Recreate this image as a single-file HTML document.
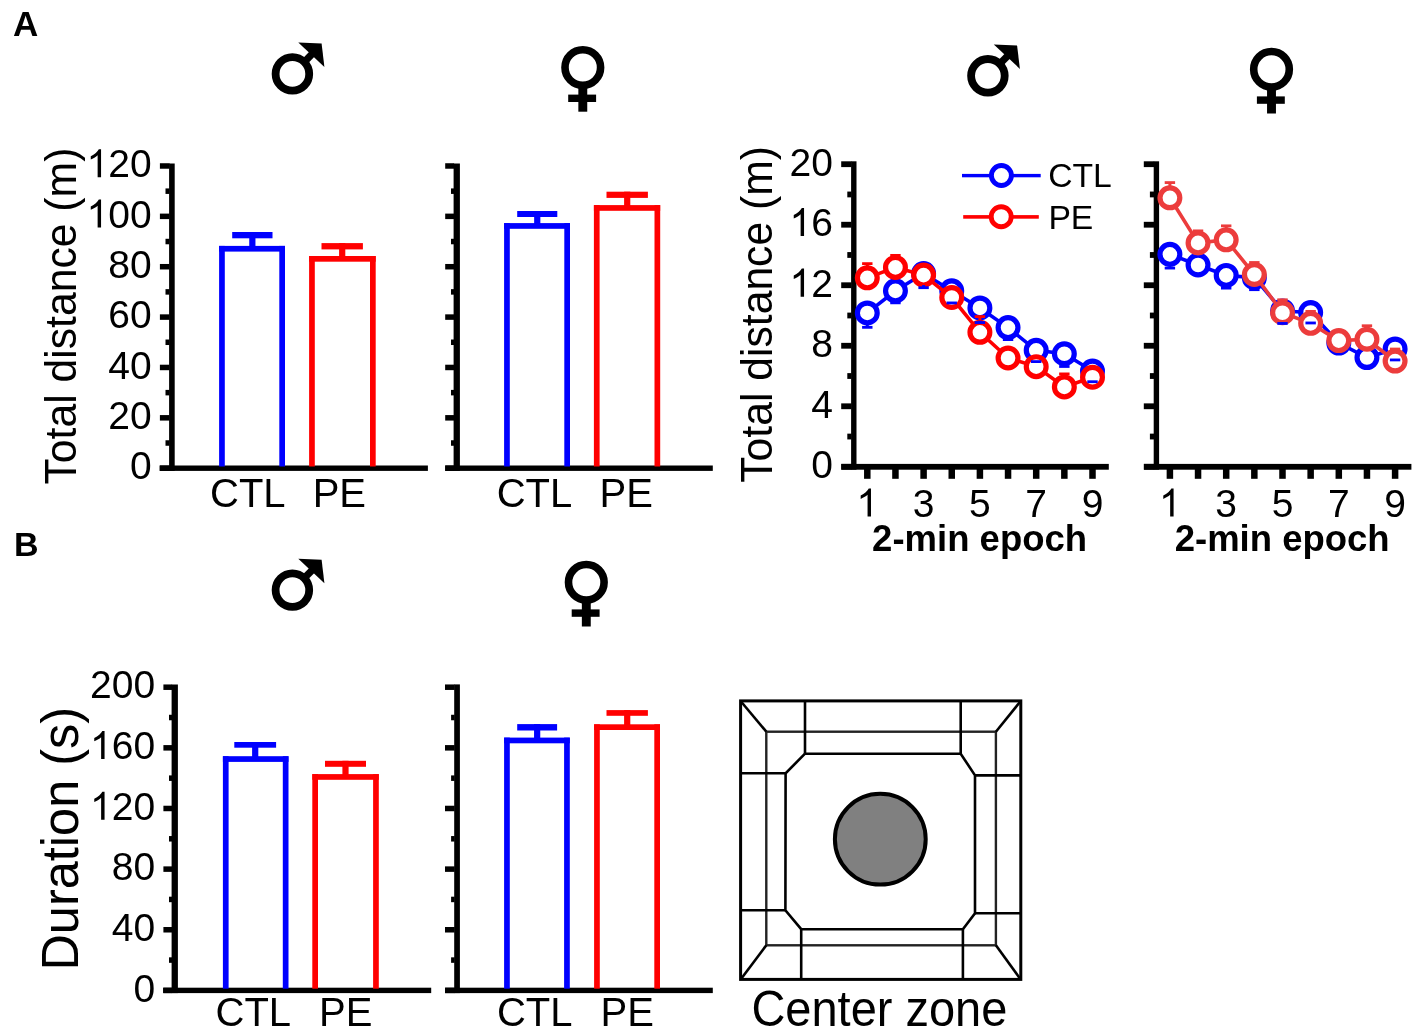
<!DOCTYPE html>
<html><head><meta charset="utf-8"><style>
html,body{margin:0;padding:0;background:#fff;overflow:hidden;}
svg{display:block;will-change:transform;}
text{font-family:"Liberation Sans", sans-serif;fill:#000;}
</style></head><body>
<svg width="1421" height="1033" viewBox="0 0 1421 1033">
<text x="12.95" y="35.80" font-size="35" text-anchor="start" font-weight="bold">A</text>
<text x="14.00" y="555.80" font-size="34" text-anchor="start" font-weight="bold">B</text>
<circle cx="292.40" cy="73.90" r="16.8" fill="none" stroke="#000" stroke-width="7.8"/>
<line x1="302.40" y1="63.90" x2="314.00" y2="52.00" stroke="#000" stroke-width="7.2"/>
<polygon points="298.30,42.50 321.60,43.60 324.40,67.00" fill="#000"/>
<circle cx="582.80" cy="67.50" r="17.8" fill="none" stroke="#000" stroke-width="7.6"/>
<rect x="578.35" y="87.50" width="8.90" height="24.20" fill="#000"/>
<rect x="568.20" y="94.60" width="27.90" height="7.40" fill="#000"/>
<circle cx="292.40" cy="590.10" r="16.8" fill="none" stroke="#000" stroke-width="7.8"/>
<line x1="302.40" y1="580.10" x2="314.00" y2="568.20" stroke="#000" stroke-width="7.2"/>
<polygon points="298.30,558.70 321.60,559.80 324.40,583.20" fill="#000"/>
<circle cx="586.30" cy="582.30" r="17.8" fill="none" stroke="#000" stroke-width="7.6"/>
<rect x="581.85" y="602.30" width="8.90" height="24.20" fill="#000"/>
<rect x="571.70" y="609.40" width="27.90" height="7.40" fill="#000"/>
<circle cx="987.90" cy="75.80" r="16.8" fill="none" stroke="#000" stroke-width="7.8"/>
<line x1="997.90" y1="65.80" x2="1009.50" y2="53.90" stroke="#000" stroke-width="7.2"/>
<polygon points="993.80,44.40 1017.10,45.50 1019.90,68.90" fill="#000"/>
<circle cx="1271.50" cy="69.30" r="17.8" fill="none" stroke="#000" stroke-width="7.6"/>
<rect x="1267.05" y="89.30" width="8.90" height="24.20" fill="#000"/>
<rect x="1256.90" y="96.40" width="27.90" height="7.40" fill="#000"/>
<rect x="169.10" y="163.50" width="5.60" height="307.40" fill="#000"/>
<rect x="159.60" y="465.50" width="268.30" height="5.40" fill="#000"/>
<rect x="159.90" y="465.45" width="9.70" height="5.50" fill="#000"/>
<rect x="165.50" y="440.26" width="4.10" height="5.50" fill="#000"/>
<rect x="159.90" y="415.08" width="9.70" height="5.50" fill="#000"/>
<rect x="165.50" y="389.89" width="4.10" height="5.50" fill="#000"/>
<rect x="159.90" y="364.71" width="9.70" height="5.50" fill="#000"/>
<rect x="165.50" y="339.52" width="4.10" height="5.50" fill="#000"/>
<rect x="159.90" y="314.34" width="9.70" height="5.50" fill="#000"/>
<rect x="165.50" y="289.15" width="4.10" height="5.50" fill="#000"/>
<rect x="159.90" y="263.97" width="9.70" height="5.50" fill="#000"/>
<rect x="165.50" y="238.78" width="4.10" height="5.50" fill="#000"/>
<rect x="159.90" y="213.60" width="9.70" height="5.50" fill="#000"/>
<rect x="165.50" y="188.42" width="4.10" height="5.50" fill="#000"/>
<rect x="159.90" y="163.23" width="9.70" height="5.50" fill="#000"/>
<text x="129.91" y="479.40" font-size="39">0</text>
<text x="108.22" y="429.03" font-size="39">2</text>
<text x="129.91" y="429.03" font-size="39">0</text>
<text x="108.22" y="378.66" font-size="39">4</text>
<text x="129.91" y="378.66" font-size="39">0</text>
<text x="108.22" y="328.29" font-size="39">6</text>
<text x="129.91" y="328.29" font-size="39">0</text>
<text x="108.22" y="277.92" font-size="39">8</text>
<text x="129.91" y="277.92" font-size="39">0</text>
<path d="M763 0H583V1147Q518 1085 412 1023Q306 961 222 930V1104Q373 1175 486 1276Q599 1377 646 1472H763Z" transform="translate(86.53,227.55) scale(0.01904,-0.01904)"/>
<text x="108.22" y="227.55" font-size="39">0</text>
<text x="129.91" y="227.55" font-size="39">0</text>
<path d="M763 0H583V1147Q518 1085 412 1023Q306 961 222 930V1104Q373 1175 486 1276Q599 1377 646 1472H763Z" transform="translate(86.53,177.18) scale(0.01904,-0.01904)"/>
<text x="108.22" y="177.18" font-size="39">2</text>
<text x="129.91" y="177.18" font-size="39">0</text>
<rect x="219.10" y="245.90" width="5.70" height="220.60" fill="#0000ff"/>
<rect x="279.30" y="245.90" width="5.70" height="220.60" fill="#0000ff"/>
<rect x="219.10" y="245.90" width="65.90" height="5.70" fill="#0000ff"/>
<rect x="249.25" y="232.00" width="6.20" height="14.90" fill="#0000ff"/>
<rect x="232.20" y="232.00" width="40.30" height="6.30" fill="#0000ff"/>
<rect x="309.10" y="256.00" width="5.70" height="210.50" fill="#ff0000"/>
<rect x="370.00" y="256.00" width="5.70" height="210.50" fill="#ff0000"/>
<rect x="309.10" y="256.00" width="66.60" height="5.70" fill="#ff0000"/>
<rect x="339.10" y="243.10" width="6.20" height="13.90" fill="#ff0000"/>
<rect x="321.50" y="243.10" width="41.40" height="6.30" fill="#ff0000"/>
<text x="210.00" y="506.80" font-size="40" text-anchor="start">CTL</text>
<text x="312.70" y="506.80" font-size="40" text-anchor="start">PE</text>
<rect x="453.60" y="163.50" width="6.30" height="307.40" fill="#000"/>
<rect x="445.20" y="465.50" width="267.60" height="5.40" fill="#000"/>
<rect x="445.20" y="465.45" width="8.90" height="5.50" fill="#000"/>
<rect x="451.00" y="440.26" width="3.10" height="5.50" fill="#000"/>
<rect x="445.20" y="415.08" width="8.90" height="5.50" fill="#000"/>
<rect x="451.00" y="389.89" width="3.10" height="5.50" fill="#000"/>
<rect x="445.20" y="364.71" width="8.90" height="5.50" fill="#000"/>
<rect x="451.00" y="339.52" width="3.10" height="5.50" fill="#000"/>
<rect x="445.20" y="314.34" width="8.90" height="5.50" fill="#000"/>
<rect x="451.00" y="289.15" width="3.10" height="5.50" fill="#000"/>
<rect x="445.20" y="263.97" width="8.90" height="5.50" fill="#000"/>
<rect x="451.00" y="238.78" width="3.10" height="5.50" fill="#000"/>
<rect x="445.20" y="213.60" width="8.90" height="5.50" fill="#000"/>
<rect x="451.00" y="188.42" width="3.10" height="5.50" fill="#000"/>
<rect x="445.20" y="163.23" width="8.90" height="5.50" fill="#000"/>
<rect x="504.10" y="223.10" width="5.70" height="243.40" fill="#0000ff"/>
<rect x="564.30" y="223.10" width="5.70" height="243.40" fill="#0000ff"/>
<rect x="504.10" y="223.10" width="65.90" height="5.70" fill="#0000ff"/>
<rect x="534.15" y="211.00" width="6.20" height="13.10" fill="#0000ff"/>
<rect x="517.20" y="211.00" width="40.10" height="6.00" fill="#0000ff"/>
<rect x="593.90" y="205.10" width="5.70" height="261.40" fill="#ff0000"/>
<rect x="654.50" y="205.10" width="5.70" height="261.40" fill="#ff0000"/>
<rect x="593.90" y="205.10" width="66.30" height="5.70" fill="#ff0000"/>
<rect x="624.10" y="191.70" width="6.20" height="14.40" fill="#ff0000"/>
<rect x="606.50" y="191.70" width="41.40" height="6.20" fill="#ff0000"/>
<text x="496.70" y="506.80" font-size="40" text-anchor="start">CTL</text>
<text x="599.60" y="506.80" font-size="40" text-anchor="start">PE</text>
<rect x="171.60" y="684.50" width="6.30" height="308.60" fill="#000"/>
<rect x="163.10" y="987.70" width="268.10" height="5.40" fill="#000"/>
<rect x="163.40" y="987.65" width="8.70" height="5.50" fill="#000"/>
<rect x="169.00" y="957.33" width="3.10" height="5.50" fill="#000"/>
<rect x="163.40" y="927.01" width="8.70" height="5.50" fill="#000"/>
<rect x="169.00" y="896.69" width="3.10" height="5.50" fill="#000"/>
<rect x="163.40" y="866.37" width="8.70" height="5.50" fill="#000"/>
<rect x="169.00" y="836.05" width="3.10" height="5.50" fill="#000"/>
<rect x="163.40" y="805.73" width="8.70" height="5.50" fill="#000"/>
<rect x="169.00" y="775.41" width="3.10" height="5.50" fill="#000"/>
<rect x="163.40" y="745.09" width="8.70" height="5.50" fill="#000"/>
<rect x="169.00" y="714.77" width="3.10" height="5.50" fill="#000"/>
<rect x="163.40" y="684.45" width="8.70" height="5.50" fill="#000"/>
<text x="133.41" y="1001.60" font-size="39">0</text>
<text x="111.72" y="940.96" font-size="39">4</text>
<text x="133.41" y="940.96" font-size="39">0</text>
<text x="111.72" y="880.32" font-size="39">8</text>
<text x="133.41" y="880.32" font-size="39">0</text>
<path d="M763 0H583V1147Q518 1085 412 1023Q306 961 222 930V1104Q373 1175 486 1276Q599 1377 646 1472H763Z" transform="translate(90.03,819.68) scale(0.01904,-0.01904)"/>
<text x="111.72" y="819.68" font-size="39">2</text>
<text x="133.41" y="819.68" font-size="39">0</text>
<path d="M763 0H583V1147Q518 1085 412 1023Q306 961 222 930V1104Q373 1175 486 1276Q599 1377 646 1472H763Z" transform="translate(90.03,759.04) scale(0.01904,-0.01904)"/>
<text x="111.72" y="759.04" font-size="39">6</text>
<text x="133.41" y="759.04" font-size="39">0</text>
<text x="90.03" y="698.40" font-size="39">2</text>
<text x="111.72" y="698.40" font-size="39">0</text>
<text x="133.41" y="698.40" font-size="39">0</text>
<rect x="222.90" y="756.20" width="5.70" height="232.50" fill="#0000ff"/>
<rect x="282.80" y="756.20" width="5.70" height="232.50" fill="#0000ff"/>
<rect x="222.90" y="756.20" width="65.60" height="5.70" fill="#0000ff"/>
<rect x="252.10" y="742.00" width="6.20" height="15.20" fill="#0000ff"/>
<rect x="234.30" y="742.00" width="41.80" height="5.70" fill="#0000ff"/>
<rect x="312.30" y="774.10" width="5.70" height="214.60" fill="#ff0000"/>
<rect x="373.10" y="774.10" width="5.70" height="214.60" fill="#ff0000"/>
<rect x="312.30" y="774.10" width="66.50" height="5.70" fill="#ff0000"/>
<rect x="342.40" y="760.80" width="6.20" height="14.30" fill="#ff0000"/>
<rect x="325.00" y="760.80" width="41.00" height="6.00" fill="#ff0000"/>
<text x="215.50" y="1026.00" font-size="40" text-anchor="start">CTL</text>
<text x="319.00" y="1026.00" font-size="40" text-anchor="start">PE</text>
<rect x="454.20" y="684.40" width="5.70" height="308.70" fill="#000"/>
<rect x="445.20" y="987.70" width="267.60" height="5.40" fill="#000"/>
<rect x="445.00" y="987.65" width="9.70" height="5.50" fill="#000"/>
<rect x="451.10" y="957.33" width="3.60" height="5.50" fill="#000"/>
<rect x="445.00" y="927.01" width="9.70" height="5.50" fill="#000"/>
<rect x="451.10" y="896.69" width="3.60" height="5.50" fill="#000"/>
<rect x="445.00" y="866.37" width="9.70" height="5.50" fill="#000"/>
<rect x="451.10" y="836.05" width="3.60" height="5.50" fill="#000"/>
<rect x="445.00" y="805.73" width="9.70" height="5.50" fill="#000"/>
<rect x="451.10" y="775.41" width="3.60" height="5.50" fill="#000"/>
<rect x="445.00" y="745.09" width="9.70" height="5.50" fill="#000"/>
<rect x="451.10" y="714.77" width="3.60" height="5.50" fill="#000"/>
<rect x="445.00" y="684.45" width="9.70" height="5.50" fill="#000"/>
<rect x="504.10" y="737.60" width="5.70" height="251.10" fill="#0000ff"/>
<rect x="564.10" y="737.60" width="5.70" height="251.10" fill="#0000ff"/>
<rect x="504.10" y="737.60" width="65.70" height="5.70" fill="#0000ff"/>
<rect x="534.05" y="724.10" width="6.20" height="14.50" fill="#0000ff"/>
<rect x="517.20" y="724.10" width="39.90" height="6.40" fill="#0000ff"/>
<rect x="594.10" y="724.30" width="5.70" height="264.40" fill="#ff0000"/>
<rect x="654.30" y="724.30" width="5.70" height="264.40" fill="#ff0000"/>
<rect x="594.10" y="724.30" width="65.90" height="5.70" fill="#ff0000"/>
<rect x="624.10" y="710.10" width="6.20" height="15.20" fill="#ff0000"/>
<rect x="606.50" y="710.10" width="41.40" height="5.70" fill="#ff0000"/>
<text x="496.90" y="1026.00" font-size="40" text-anchor="start">CTL</text>
<text x="600.60" y="1026.00" font-size="40" text-anchor="start">PE</text>
<text x="0" y="0" font-size="42.7" transform="translate(75.90,484.50) rotate(-90) scale(1,1.035)">Total distance (m)</text>
<text x="0" y="0" font-size="42.7" transform="translate(772.00,482.80) rotate(-90) scale(1,1.035)">Total distance (m)</text>
<text x="0" y="0" font-size="50.5" transform="translate(77.90,970.60) rotate(-90) scale(1,1.035)">Duration (s)</text>
<rect x="851.10" y="161.30" width="5.40" height="308.40" fill="#000"/>
<rect x="841.40" y="463.90" width="267.40" height="5.80" fill="#000"/>
<rect x="841.20" y="463.90" width="10.40" height="5.80" fill="#000"/>
<text x="811.21" y="478.20" font-size="39">0</text>
<rect x="847.30" y="433.64" width="4.30" height="5.80" fill="#000"/>
<rect x="841.20" y="403.38" width="10.40" height="5.80" fill="#000"/>
<text x="811.21" y="417.68" font-size="39">4</text>
<rect x="847.30" y="373.12" width="4.30" height="5.80" fill="#000"/>
<rect x="841.20" y="342.86" width="10.40" height="5.80" fill="#000"/>
<text x="811.21" y="357.16" font-size="39">8</text>
<rect x="847.30" y="312.60" width="4.30" height="5.80" fill="#000"/>
<rect x="841.20" y="282.34" width="10.40" height="5.80" fill="#000"/>
<path d="M763 0H583V1147Q518 1085 412 1023Q306 961 222 930V1104Q373 1175 486 1276Q599 1377 646 1472H763Z" transform="translate(789.52,296.64) scale(0.01904,-0.01904)"/>
<text x="811.21" y="296.64" font-size="39">2</text>
<rect x="847.30" y="252.08" width="4.30" height="5.80" fill="#000"/>
<rect x="841.20" y="221.82" width="10.40" height="5.80" fill="#000"/>
<path d="M763 0H583V1147Q518 1085 412 1023Q306 961 222 930V1104Q373 1175 486 1276Q599 1377 646 1472H763Z" transform="translate(789.52,236.12) scale(0.01904,-0.01904)"/>
<text x="811.21" y="236.12" font-size="39">6</text>
<rect x="847.30" y="191.56" width="4.30" height="5.80" fill="#000"/>
<rect x="841.20" y="161.30" width="10.40" height="5.80" fill="#000"/>
<text x="789.52" y="175.60" font-size="39">2</text>
<text x="811.21" y="175.60" font-size="39">0</text>
<rect x="864.05" y="468.70" width="6.50" height="10.10" fill="#000"/>
<path d="M763 0H583V1147Q518 1085 412 1023Q306 961 222 930V1104Q373 1175 486 1276Q599 1377 646 1472H763Z" transform="translate(856.46,516.60) scale(0.01904,-0.01904)"/>
<rect x="892.20" y="468.70" width="6.50" height="10.10" fill="#000"/>
<rect x="920.35" y="468.70" width="6.50" height="10.10" fill="#000"/>
<text x="912.76" y="516.60" font-size="39">3</text>
<rect x="948.50" y="468.70" width="6.50" height="10.10" fill="#000"/>
<rect x="976.65" y="468.70" width="6.50" height="10.10" fill="#000"/>
<text x="969.06" y="516.60" font-size="39">5</text>
<rect x="1004.80" y="468.70" width="6.50" height="10.10" fill="#000"/>
<rect x="1032.95" y="468.70" width="6.50" height="10.10" fill="#000"/>
<text x="1025.36" y="516.60" font-size="39">7</text>
<rect x="1061.10" y="468.70" width="6.50" height="10.10" fill="#000"/>
<rect x="1089.25" y="468.70" width="6.50" height="10.10" fill="#000"/>
<text x="1081.66" y="516.60" font-size="39">9</text>
<text x="872.10" y="551.00" font-size="36.5" text-anchor="start" font-weight="bold">2-min epoch</text>
<polyline points="867.30,312.93 895.45,290.84 923.60,273.59 951.75,290.84 979.90,307.94 1008.05,327.60 1036.20,350.30 1064.35,353.78 1092.50,371.03" fill="none" stroke="#0000ff" stroke-width="3.6"/>
<circle cx="867.30" cy="312.93" r="9.9" fill="#fff" stroke="#0000ff" stroke-width="5.2"/>
<circle cx="895.45" cy="290.84" r="9.9" fill="#fff" stroke="#0000ff" stroke-width="5.2"/>
<circle cx="923.60" cy="273.59" r="9.9" fill="#fff" stroke="#0000ff" stroke-width="5.2"/>
<circle cx="951.75" cy="290.84" r="9.9" fill="#fff" stroke="#0000ff" stroke-width="5.2"/>
<circle cx="979.90" cy="307.94" r="9.9" fill="#fff" stroke="#0000ff" stroke-width="5.2"/>
<circle cx="1008.05" cy="327.60" r="9.9" fill="#fff" stroke="#0000ff" stroke-width="5.2"/>
<circle cx="1036.20" cy="350.30" r="9.9" fill="#fff" stroke="#0000ff" stroke-width="5.2"/>
<circle cx="1064.35" cy="353.78" r="9.9" fill="#fff" stroke="#0000ff" stroke-width="5.2"/>
<circle cx="1092.50" cy="371.03" r="9.9" fill="#fff" stroke="#0000ff" stroke-width="5.2"/>
<polyline points="867.30,277.83 895.45,267.39 923.60,275.10 951.75,297.50 979.90,332.29 1008.05,358.02 1036.20,366.64 1064.35,386.91 1092.50,377.23" fill="none" stroke="#ff0000" stroke-width="3.6"/>
<circle cx="867.30" cy="277.83" r="9.9" fill="#fff" stroke="#ff0000" stroke-width="5.2"/>
<circle cx="895.45" cy="267.39" r="9.9" fill="#fff" stroke="#ff0000" stroke-width="5.2"/>
<circle cx="923.60" cy="275.10" r="9.9" fill="#fff" stroke="#ff0000" stroke-width="5.2"/>
<circle cx="951.75" cy="297.50" r="9.9" fill="#fff" stroke="#ff0000" stroke-width="5.2"/>
<circle cx="979.90" cy="332.29" r="9.9" fill="#fff" stroke="#ff0000" stroke-width="5.2"/>
<circle cx="1008.05" cy="358.02" r="9.9" fill="#fff" stroke="#ff0000" stroke-width="5.2"/>
<circle cx="1036.20" cy="366.64" r="9.9" fill="#fff" stroke="#ff0000" stroke-width="5.2"/>
<circle cx="1064.35" cy="386.91" r="9.9" fill="#fff" stroke="#ff0000" stroke-width="5.2"/>
<circle cx="1092.50" cy="377.23" r="9.9" fill="#fff" stroke="#ff0000" stroke-width="5.2"/>
<line x1="867.30" y1="324.43" x2="867.30" y2="327.33" stroke="#0000ff" stroke-width="3"/>
<rect x="862.10" y="325.93" width="10.4" height="2.8" fill="#0000ff"/>
<rect x="890.25" y="301.44" width="10.4" height="2.8" fill="#0000ff"/>
<line x1="923.60" y1="285.09" x2="923.60" y2="287.69" stroke="#0000ff" stroke-width="3"/>
<rect x="918.40" y="286.29" width="10.4" height="2.8" fill="#0000ff"/>
<line x1="951.75" y1="302.34" x2="951.75" y2="302.94" stroke="#0000ff" stroke-width="3"/>
<rect x="946.55" y="301.54" width="10.4" height="2.8" fill="#0000ff"/>
<line x1="979.90" y1="319.44" x2="979.90" y2="322.54" stroke="#0000ff" stroke-width="3"/>
<rect x="974.70" y="321.14" width="10.4" height="2.8" fill="#0000ff"/>
<rect x="1002.85" y="338.20" width="10.4" height="2.8" fill="#0000ff"/>
<rect x="1031.00" y="360.20" width="10.4" height="2.8" fill="#0000ff"/>
<line x1="1064.35" y1="365.28" x2="1064.35" y2="366.48" stroke="#0000ff" stroke-width="3"/>
<rect x="1059.15" y="365.08" width="10.4" height="2.8" fill="#0000ff"/>
<rect x="1087.30" y="380.33" width="10.4" height="2.8" fill="#0000ff"/>
<line x1="867.30" y1="266.33" x2="867.30" y2="263.63" stroke="#ff0000" stroke-width="3"/>
<rect x="862.10" y="262.23" width="10.4" height="2.8" fill="#ff0000"/>
<rect x="890.25" y="253.99" width="10.4" height="2.8" fill="#ff0000"/>
<line x1="979.90" y1="320.79" x2="979.90" y2="316.59" stroke="#ff0000" stroke-width="3"/>
<rect x="974.70" y="315.19" width="10.4" height="2.8" fill="#ff0000"/>
<line x1="1064.35" y1="375.41" x2="1064.35" y2="373.91" stroke="#ff0000" stroke-width="3"/>
<rect x="1059.15" y="372.51" width="10.4" height="2.8" fill="#ff0000"/>
<rect x="962.00" y="173.90" width="78.70" height="3.40" fill="#0000ff"/>
<circle cx="1001.4" cy="175.5" r="10.0" fill="#fff" stroke="#0000ff" stroke-width="4.9"/>
<text x="1048.20" y="186.80" font-size="33.7" text-anchor="start">CTL</text>
<rect x="963.20" y="215.10" width="75.60" height="3.60" fill="#ff0000"/>
<circle cx="1001.2" cy="216.7" r="10.0" fill="#fff" stroke="#ff0000" stroke-width="4.9"/>
<text x="1048.40" y="228.70" font-size="33.7" text-anchor="start">PE</text>
<rect x="1153.70" y="161.30" width="5.40" height="308.40" fill="#000"/>
<rect x="1144.00" y="463.90" width="267.40" height="5.80" fill="#000"/>
<rect x="1143.80" y="463.90" width="10.40" height="5.80" fill="#000"/>
<rect x="1149.90" y="433.64" width="4.30" height="5.80" fill="#000"/>
<rect x="1143.80" y="403.38" width="10.40" height="5.80" fill="#000"/>
<rect x="1149.90" y="373.12" width="4.30" height="5.80" fill="#000"/>
<rect x="1143.80" y="342.86" width="10.40" height="5.80" fill="#000"/>
<rect x="1149.90" y="312.60" width="4.30" height="5.80" fill="#000"/>
<rect x="1143.80" y="282.34" width="10.40" height="5.80" fill="#000"/>
<rect x="1149.90" y="252.08" width="4.30" height="5.80" fill="#000"/>
<rect x="1143.80" y="221.82" width="10.40" height="5.80" fill="#000"/>
<rect x="1149.90" y="191.56" width="4.30" height="5.80" fill="#000"/>
<rect x="1143.80" y="161.30" width="10.40" height="5.80" fill="#000"/>
<rect x="1166.65" y="468.70" width="6.50" height="10.10" fill="#000"/>
<path d="M763 0H583V1147Q518 1085 412 1023Q306 961 222 930V1104Q373 1175 486 1276Q599 1377 646 1472H763Z" transform="translate(1159.06,516.60) scale(0.01904,-0.01904)"/>
<rect x="1194.80" y="468.70" width="6.50" height="10.10" fill="#000"/>
<rect x="1222.95" y="468.70" width="6.50" height="10.10" fill="#000"/>
<text x="1215.36" y="516.60" font-size="39">3</text>
<rect x="1251.10" y="468.70" width="6.50" height="10.10" fill="#000"/>
<rect x="1279.25" y="468.70" width="6.50" height="10.10" fill="#000"/>
<text x="1271.66" y="516.60" font-size="39">5</text>
<rect x="1307.40" y="468.70" width="6.50" height="10.10" fill="#000"/>
<rect x="1335.55" y="468.70" width="6.50" height="10.10" fill="#000"/>
<text x="1327.96" y="516.60" font-size="39">7</text>
<rect x="1363.70" y="468.70" width="6.50" height="10.10" fill="#000"/>
<rect x="1391.85" y="468.70" width="6.50" height="10.10" fill="#000"/>
<text x="1384.26" y="516.60" font-size="39">9</text>
<text x="1174.70" y="551.00" font-size="36.5" text-anchor="start" font-weight="bold">2-min epoch</text>
<polyline points="1169.90,254.37 1198.05,264.97 1226.20,275.41 1254.35,277.68 1282.50,310.96 1310.65,312.47 1338.80,343.04 1366.95,357.56 1395.10,348.94" fill="none" stroke="#0000ff" stroke-width="3.6"/>
<circle cx="1169.90" cy="254.37" r="9.9" fill="#fff" stroke="#0000ff" stroke-width="5.2"/>
<circle cx="1198.05" cy="264.97" r="9.9" fill="#fff" stroke="#0000ff" stroke-width="5.2"/>
<circle cx="1226.20" cy="275.41" r="9.9" fill="#fff" stroke="#0000ff" stroke-width="5.2"/>
<circle cx="1254.35" cy="277.68" r="9.9" fill="#fff" stroke="#0000ff" stroke-width="5.2"/>
<circle cx="1282.50" cy="310.96" r="9.9" fill="#fff" stroke="#0000ff" stroke-width="5.2"/>
<circle cx="1310.65" cy="312.47" r="9.9" fill="#fff" stroke="#0000ff" stroke-width="5.2"/>
<circle cx="1338.80" cy="343.04" r="9.9" fill="#fff" stroke="#0000ff" stroke-width="5.2"/>
<circle cx="1366.95" cy="357.56" r="9.9" fill="#fff" stroke="#0000ff" stroke-width="5.2"/>
<circle cx="1395.10" cy="348.94" r="9.9" fill="#fff" stroke="#0000ff" stroke-width="5.2"/>
<polyline points="1169.90,197.79 1198.05,242.88 1226.20,239.85 1254.35,274.50 1282.50,312.78 1310.65,323.37 1338.80,340.62 1366.95,339.25 1395.10,361.04" fill="none" stroke="#ec3c3c" stroke-width="3.6"/>
<circle cx="1169.90" cy="197.79" r="9.9" fill="#fff" stroke="#ec3c3c" stroke-width="5.2"/>
<circle cx="1198.05" cy="242.88" r="9.9" fill="#fff" stroke="#ec3c3c" stroke-width="5.2"/>
<circle cx="1226.20" cy="239.85" r="9.9" fill="#fff" stroke="#ec3c3c" stroke-width="5.2"/>
<circle cx="1254.35" cy="274.50" r="9.9" fill="#fff" stroke="#ec3c3c" stroke-width="5.2"/>
<circle cx="1282.50" cy="312.78" r="9.9" fill="#fff" stroke="#ec3c3c" stroke-width="5.2"/>
<circle cx="1310.65" cy="323.37" r="9.9" fill="#fff" stroke="#ec3c3c" stroke-width="5.2"/>
<circle cx="1338.80" cy="340.62" r="9.9" fill="#fff" stroke="#ec3c3c" stroke-width="5.2"/>
<circle cx="1366.95" cy="339.25" r="9.9" fill="#fff" stroke="#ec3c3c" stroke-width="5.2"/>
<circle cx="1395.10" cy="361.04" r="9.9" fill="#fff" stroke="#ec3c3c" stroke-width="5.2"/>
<line x1="1169.90" y1="265.87" x2="1169.90" y2="268.07" stroke="#0000ff" stroke-width="3"/>
<rect x="1164.70" y="266.67" width="10.4" height="2.8" fill="#0000ff"/>
<line x1="1226.20" y1="286.91" x2="1226.20" y2="288.11" stroke="#0000ff" stroke-width="3"/>
<rect x="1221.00" y="286.71" width="10.4" height="2.8" fill="#0000ff"/>
<rect x="1249.15" y="288.28" width="10.4" height="2.8" fill="#0000ff"/>
<line x1="1282.50" y1="322.46" x2="1282.50" y2="323.46" stroke="#0000ff" stroke-width="3"/>
<rect x="1277.30" y="322.06" width="10.4" height="2.8" fill="#0000ff"/>
<rect x="1305.45" y="321.57" width="10.4" height="2.8" fill="#0000ff"/>
<rect x="1361.75" y="366.16" width="10.4" height="2.8" fill="#0000ff"/>
<rect x="1389.90" y="358.54" width="10.4" height="2.8" fill="#0000ff"/>
<line x1="1169.90" y1="186.29" x2="1169.90" y2="182.59" stroke="#ec3c3c" stroke-width="3"/>
<rect x="1164.70" y="181.19" width="10.4" height="2.8" fill="#ec3c3c"/>
<rect x="1192.85" y="229.48" width="10.4" height="2.8" fill="#ec3c3c"/>
<line x1="1226.20" y1="228.35" x2="1226.20" y2="225.85" stroke="#ec3c3c" stroke-width="3"/>
<rect x="1221.00" y="224.45" width="10.4" height="2.8" fill="#ec3c3c"/>
<rect x="1249.15" y="261.10" width="10.4" height="2.8" fill="#ec3c3c"/>
<line x1="1282.50" y1="301.28" x2="1282.50" y2="299.78" stroke="#ec3c3c" stroke-width="3"/>
<rect x="1277.30" y="298.38" width="10.4" height="2.8" fill="#ec3c3c"/>
<rect x="1305.45" y="309.97" width="10.4" height="2.8" fill="#ec3c3c"/>
<line x1="1366.95" y1="327.75" x2="1366.95" y2="325.75" stroke="#ec3c3c" stroke-width="3"/>
<rect x="1361.75" y="324.35" width="10.4" height="2.8" fill="#ec3c3c"/>
<rect x="1389.90" y="347.64" width="10.4" height="2.8" fill="#ec3c3c"/>
<rect x="740.6" y="700.9" width="280.2" height="278.5" fill="none" stroke="#000" stroke-width="3"/>
<rect x="766.3" y="731.7" width="229.6" height="213.6" fill="none" stroke="#222" stroke-width="2.4"/>
<polyline points="741,701.5 766.3,731.7" fill="none" stroke="#000" stroke-width="2.6" stroke-linejoin="miter"/>
<polyline points="1020.3,701.5 995.9,731.7" fill="none" stroke="#000" stroke-width="2.6" stroke-linejoin="miter"/>
<polyline points="741,979 766.3,945.3" fill="none" stroke="#000" stroke-width="2.6" stroke-linejoin="miter"/>
<polyline points="1020.3,979 995.9,945.3" fill="none" stroke="#000" stroke-width="2.6" stroke-linejoin="miter"/>
<polyline points="805.0,753.7 960.7,753.7 975.0,775.4 975.0,913.3 962.9,929.2 801.2,929.2 785.4,910.3 785.6,773.3 805.0,753.7" fill="none" stroke="#000" stroke-width="2.6" stroke-linejoin="miter"/>
<polyline points="805.0,701 805.0,753.7" fill="none" stroke="#000" stroke-width="2.6" stroke-linejoin="miter"/>
<polyline points="960.7,701 960.7,753.7" fill="none" stroke="#000" stroke-width="2.6" stroke-linejoin="miter"/>
<polyline points="741,773.3 785.6,773.3" fill="none" stroke="#000" stroke-width="2.6" stroke-linejoin="miter"/>
<polyline points="741,910.3 785.4,910.3" fill="none" stroke="#000" stroke-width="2.6" stroke-linejoin="miter"/>
<polyline points="975.0,775.4 1020.5,775.4" fill="none" stroke="#000" stroke-width="2.6" stroke-linejoin="miter"/>
<polyline points="975.0,913.3 1020.5,913.3" fill="none" stroke="#000" stroke-width="2.6" stroke-linejoin="miter"/>
<polyline points="801.2,929.2 801.2,979" fill="none" stroke="#000" stroke-width="2.6" stroke-linejoin="miter"/>
<polyline points="962.9,929.2 962.9,979" fill="none" stroke="#000" stroke-width="2.6" stroke-linejoin="miter"/>
<circle cx="880.3" cy="839.2" r="45.4" fill="#808080" stroke="#000" stroke-width="4"/>
<text x="0" y="0" font-size="47" transform="translate(751.4,1025.7) scale(1,1.05)">Center zone</text>
</svg>
</body></html>
